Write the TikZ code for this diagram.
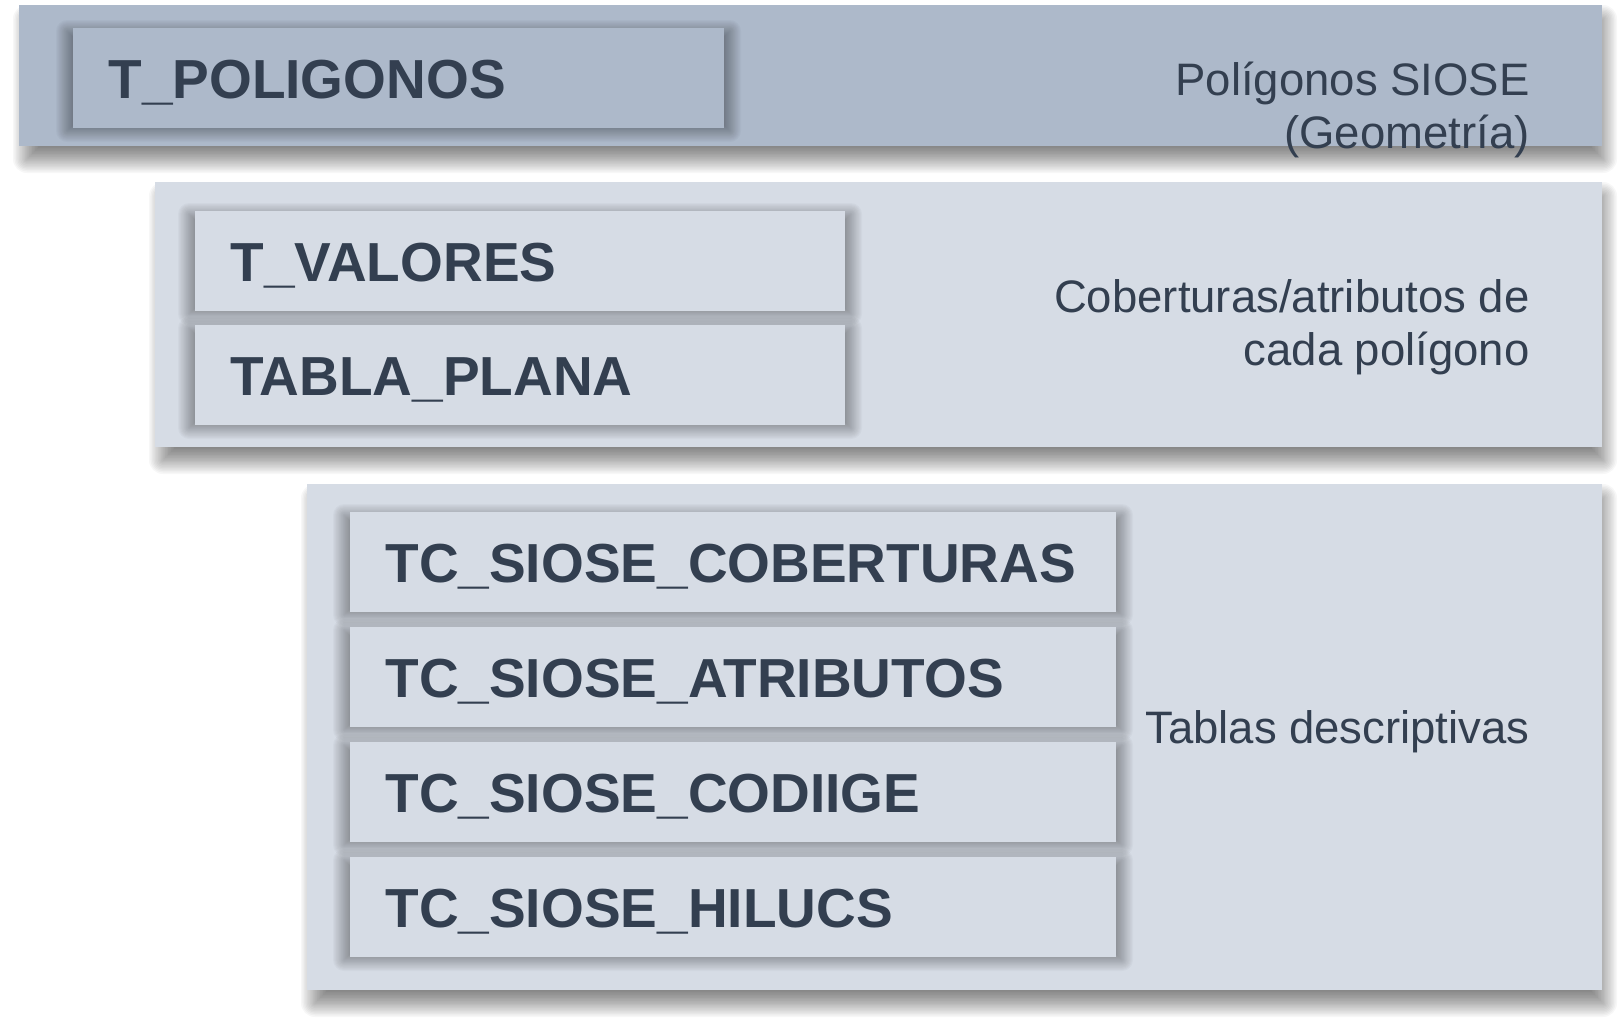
\documentclass[tikz,border=0pt]{standalone}
\usepackage{fontspec}
\setmainfont{Liberation Sans}
\usetikzlibrary{fit}
\definecolor{bandDark}{HTML}{ADB9CA}
\definecolor{bandLight}{HTML}{D6DCE5}
\definecolor{txt}{HTML}{333F50}
% soft shadow: #1 x1, #2 y1, #3 x2, #4 y2, #5..#8 deltas (left, top, right, bottom), #9 blur radius (px)
\newcommand\softshadow[9]{%
  \foreach \k in {0,...,19}{%
    \pgfmathsetmacro\ee{#9*(1-2*\k/19)}%
    \pgfmathsetlengthmacro\rc{max(\ee,0.01)*0.5}%
    \fill[black, opacity=\shalpha, rounded corners=\rc]
      ({#1+#5-(\ee)}, {#2+#6-(\ee)}) rectangle ({#3+#7+(\ee)}, {#4+#8+(\ee)});
  }%
}
\begin{document}
\begin{tikzpicture}[x=0.5pt,y=-0.5pt,
  band/.style={inner sep=0pt, outer sep=0pt, draw=none},
  tbl/.style={inner sep=0pt, outer sep=0pt, draw=none},
  lbl/.style={inner sep=0pt, anchor=base west, text=txt, font=\fontsize{27.5pt}{33pt}\selectfont\bfseries},
  desc/.style={inner sep=0pt, anchor=base east, text=txt, font=\fontsize{22.75pt}{27pt}\selectfont}]
\useasboundingbox[fill=white] (0,0) rectangle (1621,1024);

% ---------- band 1
\def\shalpha{0.031}
\softshadow{19}{5}{1602}{146}{8}{14}{1}{13}{14}
\node[band, fill=bandDark, fit={(19,5) (1602,146)}] (b1) {};
\def\shalpha{0.023}
\softshadow{73}{28}{724}{128}{-6}{3}{6}{3}{11}
\node[tbl, fill=bandDark, fit={(73,28) (724,128)}] (poly) {};
\node[lbl] (polyT) at ([xshift=17.5pt, yshift=-10.3pt]poly.west) {T\_POLIGONOS};
\node[desc] (d1a) at (1530,95) {Polígonos SIOSE};
\node[desc] (d1b) at (1530,148) {(Geometría)};

% ---------- band 2
\def\shalpha{0.031}
\softshadow{155}{182}{1602}{447}{8}{14}{1}{13}{14}
\node[band, fill=bandLight, fit={(155,182) (1602,447)}] (b2) {};
\def\shalpha{0.023}
\softshadow{195}{211}{845}{311}{-6}{3}{6}{3}{11}
\node[tbl, fill=bandLight, fit={(195,211) (845,311)}] (val) {};
\softshadow{195}{325}{845}{425}{-6}{3}{6}{3}{11}
\node[tbl, fill=bandLight, fit={(195,325) (845,425)}] (plana) {};
\node[lbl] (valT) at ([xshift=17.5pt, yshift=-10.3pt]val.west) {T\_VALORES};
\node[lbl] (planaT) at ([xshift=17.5pt, yshift=-10.3pt]plana.west) {TABLA\_PLANA};
\node[desc] (d2a) at (1530,312) {Coberturas/atributos de};
\node[desc] (d2b) at (1530,365) {cada polígono};

% ---------- band 3
\def\shalpha{0.031}
\softshadow{307}{484}{1602}{990}{8}{14}{1}{13}{14}
\node[band, fill=bandLight, fit={(307,484) (1602,990)}] (b3) {};
\def\shalpha{0.023}
\softshadow{350}{512}{1116}{612}{-6}{3}{6}{3}{11}
\node[tbl, fill=bandLight, fit={(350,512) (1116,612)}] (cob) {};
\softshadow{350}{627}{1116}{727}{-6}{3}{6}{3}{11}
\node[tbl, fill=bandLight, fit={(350,627) (1116,727)}] (atr) {};
\softshadow{350}{742}{1116}{842}{-6}{3}{6}{3}{11}
\node[tbl, fill=bandLight, fit={(350,742) (1116,842)}] (cod) {};
\softshadow{350}{857}{1116}{957}{-6}{3}{6}{3}{11}
\node[tbl, fill=bandLight, fit={(350,857) (1116,957)}] (hil) {};
\node[lbl] (cobT) at ([xshift=17.5pt, yshift=-10.3pt]cob.west) {TC\_SIOSE\_COBERTURAS};
\node[lbl] (atrT) at ([xshift=17.5pt, yshift=-10.3pt]atr.west) {TC\_SIOSE\_ATRIBUTOS};
\node[lbl] (codT) at ([xshift=17.5pt, yshift=-10.3pt]cod.west) {TC\_SIOSE\_CODIIGE};
\node[lbl] (hilT) at ([xshift=17.5pt, yshift=-10.3pt]hil.west) {TC\_SIOSE\_HILUCS};
\node[desc] (d3) at (1530,743) {Tablas descriptivas};
\end{tikzpicture}
\end{document}
